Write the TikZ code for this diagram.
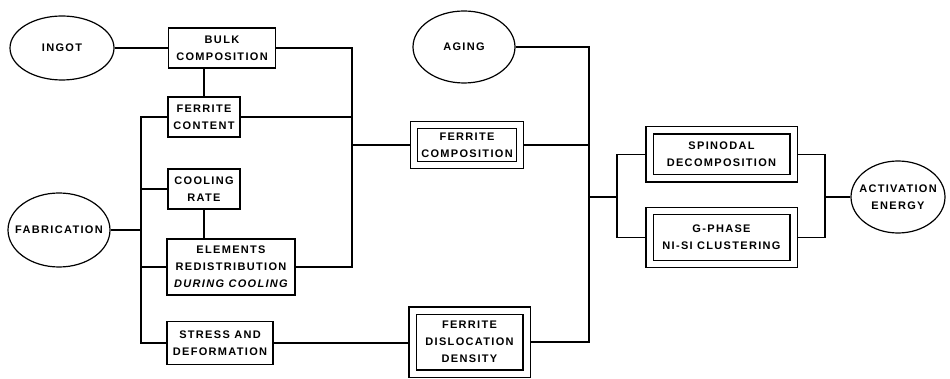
\documentclass[tikz,border=0pt]{standalone}
\usepackage{fontspec}
\newfontfamily\diagfont[LetterSpace=12]{Liberation Sans}
\usetikzlibrary{shapes.geometric}
\begin{document}
\begin{tikzpicture}[x=1pt,y=-1pt,line width=1.2pt,
  font=\diagfont\bfseries\fontsize{11}{17}\selectfont,
  box/.style={draw,rectangle,inner sep=0pt,align=center},
  dbox/.style={draw,rectangle,double,double distance=6pt,inner sep=0pt,outer sep=4.2pt,align=center},
  oval/.style={draw,ellipse,inner sep=0pt}]
\useasboundingbox (0,0) rectangle (950,379);
% ellipses
\node[oval,minimum width=104pt,minimum height=64pt,label={center:INGOT}] (ingot) at (62,48) {};
\node[oval,minimum width=102pt,minimum height=74pt,label={center:FABRICATION}] (fab) at (59,230) {};
\node[oval,minimum width=102pt,minimum height=72pt,label={center:AGING}] (aging) at (464,47) {};
\node[oval,minimum width=94pt,minimum height=72pt,label={[align=center]center:ACTIVATION\\ENERGY}] (act) at (898,197) {};
% boxes
\node[box,minimum width=107pt,minimum height=40pt] (bulk) at (222,48) {BULK\\COMPOSITION};
\node[box,minimum width=72pt,minimum height=40pt] (fcont) at (204,117) {FERRITE\\CONTENT};
\node[box,minimum width=72pt,minimum height=40pt] (cool) at (204,189) {COOLING\\RATE};
\node[box,minimum width=128pt,minimum height=56pt] (elem) at (231,267) {ELEMENTS\\REDISTRIBUTION\\{\itshape DURING COOLING}};
\node[box,minimum width=106pt,minimum height=43pt] (stress) at (220,343) {STRESS AND\\DEFORMATION};
% double boxes
\node[dbox,minimum width=106pt,minimum height=40pt] (fcomp) at (467,145) {FERRITE\\COMPOSITION};
\node[dbox,minimum width=114pt,minimum height=63pt] (fdis) at (469.5,342) {FERRITE\\DISLOCATION\\DENSITY};
\node[dbox,minimum width=144pt,minimum height=48pt] (spin) at (721.5,154.5) {SPINODAL\\DECOMPOSITION};
\node[dbox,minimum width=144pt,minimum height=53pt] (gph) at (721.5,237.5) {G-PHASE\\NI-SI CLUSTERING};
% junctions
\coordinate (lb) at (141,230);
\coordinate (r1) at (352,145);
\coordinate (r2) at (589,197);
\coordinate (r3) at (617,197);
\coordinate (r4) at (825,197);
% connectors
\draw (ingot) -- (bulk);
\draw (bulk.south -| fcont) -- (fcont.north);
\draw (cool.south) -- (cool.south |- elem.north);
\draw (fcont.west) -| (lb) |- (stress.west);
\draw (cool.west) -- (cool.west -| lb);
\draw (elem.west) -- (elem.west -| lb);
\draw (fab.east) -- (lb);
\draw (bulk.east) -| (r1);
\draw (elem.east) -| (r1);
\draw (fcont.east) -- (fcont.east -| r1);
\draw (r1) -- (fcomp.west);
\draw (stress.east) -- (stress.east -| fdis.west);
\draw (aging.east) -| (r2);
\draw (fdis.east) -| (r2);
\draw (fcomp.east) -- (fcomp.east -| r2);
\draw (r2) -- (r3);
\draw (spin.west) -| (r3);
\draw (gph.west) -| (r3);
\draw (spin.east) -| (r4);
\draw (gph.east) -| (r4);
\draw (r4) -- (act.west);
\end{tikzpicture}
\end{document}
